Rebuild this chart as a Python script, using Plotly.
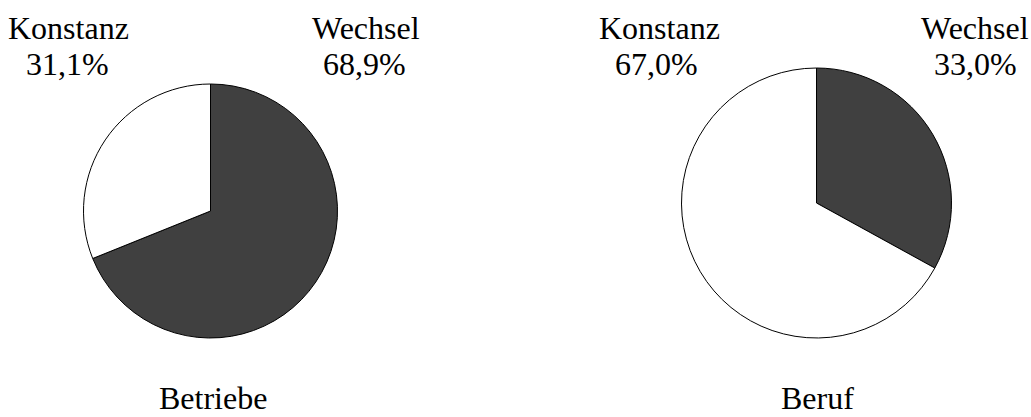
import plotly.graph_objects as go

W, H = 1031, 417

categories = ["Wechsel", "Konstanz"]
betriebe_values = [68.9, 31.1]
beruf_values = [33.0, 67.0]
value_labels_betriebe = ["68,9%", "31,1%"]
value_labels_beruf = ["33,0%", "67,0%"]
titles = ["Betriebe", "Beruf"]

colors = ["#404040", "#ffffff"]
FONT = "Liberation Serif, Times New Roman, serif"


def xdom(x0, x1):
    return [x0 / W, x1 / W]


def ydom(top, bottom):
    return [1 - bottom / H, 1 - top / H]


fig = go.Figure()

fig.add_trace(go.Pie(
    labels=categories, values=betriebe_values, sort=False, direction="clockwise",
    rotation=0, textinfo="none", hoverinfo="label+percent",
    marker=dict(colors=colors, line=dict(color="#000000", width=1)),
    domain=dict(x=xdom(83.5, 337.5), y=ydom(84, 338)), showlegend=False,
))
fig.add_trace(go.Pie(
    labels=categories, values=beruf_values, sort=False, direction="clockwise",
    rotation=0, textinfo="none", hoverinfo="label+percent",
    marker=dict(colors=colors, line=dict(color="#000000", width=1)),
    domain=dict(x=xdom(681.5, 951.5), y=ydom(68, 338)), showlegend=False,
))

anns = []


def add_text(text, xc, yc):
    anns.append(dict(
        text=text, x=xc / W, y=1 - yc / H, xref="paper", yref="paper",
        xanchor="center", yanchor="middle", showarrow=False,
        font=dict(family=FONT, size=32, color="#000000"),
    ))


# Left pie labels
add_text(categories[1], 68, 28)
add_text(value_labels_betriebe[1], 67, 64)
add_text(categories[0], 366, 28)
add_text(value_labels_betriebe[0], 364, 64)
# Right pie labels
add_text(categories[1], 659, 28)
add_text(value_labels_beruf[1], 656, 64)
add_text(categories[0], 975, 28)
add_text(value_labels_beruf[0], 975, 64)
# Titles
add_text(titles[0], 213, 398)
add_text(titles[1], 817, 398)

fig.update_layout(
    width=W, height=H, margin=dict(l=0, r=0, t=0, b=0),
    paper_bgcolor="#ffffff", plot_bgcolor="#ffffff",
    annotations=anns,
)

fig.write_html(
    "out.html",
    config={"displayModeBar": False},
    post_script="document.body.style.margin='0';document.body.style.overflow='hidden';",
)
